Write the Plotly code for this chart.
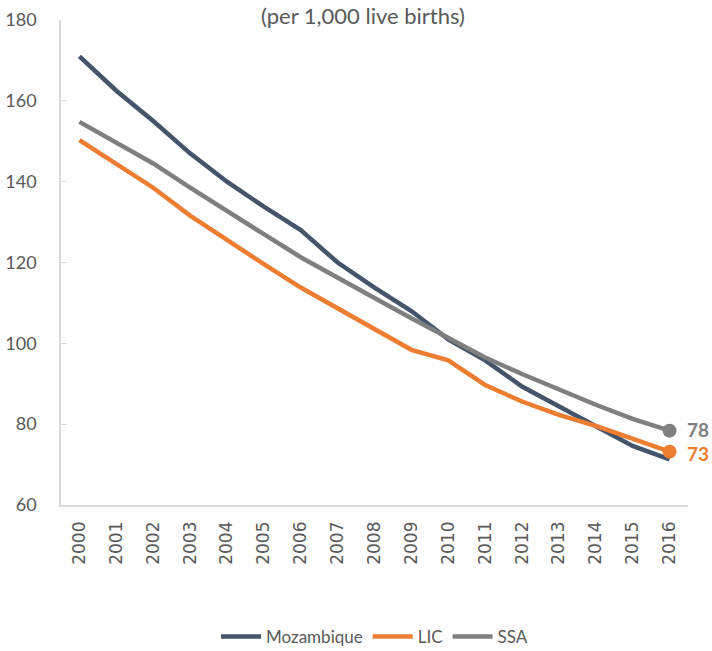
import plotly.graph_objects as go

years = [str(y) for y in range(2000, 2017)]
mozambique = [171, 162.5, 155, 147, 140, 133.8, 128, 120, 113.8, 108, 101, 95.8, 89.3, 84.5, 79.5, 74.6, 71.3]
lic = [150.3, 144.3, 138.5, 131.6, 125.5, 119.6, 113.8, 108.6, 103.4, 98.4, 95.8, 89.7, 85.6, 82.3, 79.6, 76.4, 73.2]
ssa = [154.8, 149.6, 144.5, 138.5, 132.6, 127, 121.3, 116.1, 111.2, 106.2, 101.4, 96.5, 92.4, 88.5, 84.8, 81.3, 78.4]
series_names = ["Mozambique", "LIC", "SSA"]
colors = ["#44546A", "#ED7D31", "#7F7F7F"]
y_ticks = [60, 80, 100, 120, 140, 160, 180]
title_text = "(per 1,000 live births)"

FONT = "Lato, 'Open Sans', sans-serif"
TICKFONT = "'DejaVu Sans', sans-serif"
fig = go.Figure()
for name, vals, col in zip(series_names, [mozambique, lic, ssa], colors):
    fig.add_trace(go.Scatter(x=years, y=vals, mode="lines", name=name,
                             line=dict(color=col, width=4.5)))

# end markers
for vals, col, ys in [(ssa, colors[2], 1), (lic, colors[1], -2)]:
    fig.add_trace(go.Scatter(x=[years[-1]], y=[vals[-1]], mode="markers",
                             marker=dict(color=col, size=14), showlegend=False,
                             hoverinfo="skip"))
    fig.add_annotation(x=1, y=vals[-1], xref="paper", yref="y",
                       text="<b>%d</b>" % round(vals[-1]), showarrow=False,
                       xanchor="left", xshift=-3, yshift=ys,
                       font=dict(family=FONT, size=19, color=col))

fig.add_annotation(x=0.482, y=1, xref="paper", yref="paper", yanchor="middle",
                   yshift=5, text=title_text, showarrow=False,
                   font=dict(family=FONT, size=22, color="#595959"))

fig.update_layout(
    width=712, height=651,
    margin=dict(l=61, r=24, t=20, b=146, autoexpand=False),
    paper_bgcolor="white", plot_bgcolor="white",
    font=dict(family=FONT, color="#595959"),
    showlegend=True,
    legend=dict(orientation="h", x=0.5, xanchor="center", y=-0.272, yanchor="middle",
                font=dict(family=FONT, size=17, color="#595959"),
                itemwidth=40),
)
fig.update_xaxes(type="category", showgrid=False, showline=True, linecolor="#D9D9D9",
                 linewidth=1.5, tickangle=-90, tickfont=dict(family=TICKFONT, size=17, color="#595959"),
                 ticks="", range=[-0.5, 16.5], automargin=False, ticklabelstandoff=8)
fig.update_yaxes(range=[60, 180], tickvals=y_ticks, showgrid=False, showline=True,
                 linecolor="#D9D9D9", linewidth=1.5, ticks="inside", ticklen=6,
                 tickcolor="#D9D9D9", zeroline=False, automargin=False,
                 ticklabelstandoff=19,
                 tickfont=dict(family=FONT, size=18, color="#595959"))

fig.write_html("out.html", config={"displayModeBar": False},
               post_script="document.body.style.margin='0';document.body.style.overflow='hidden';")
